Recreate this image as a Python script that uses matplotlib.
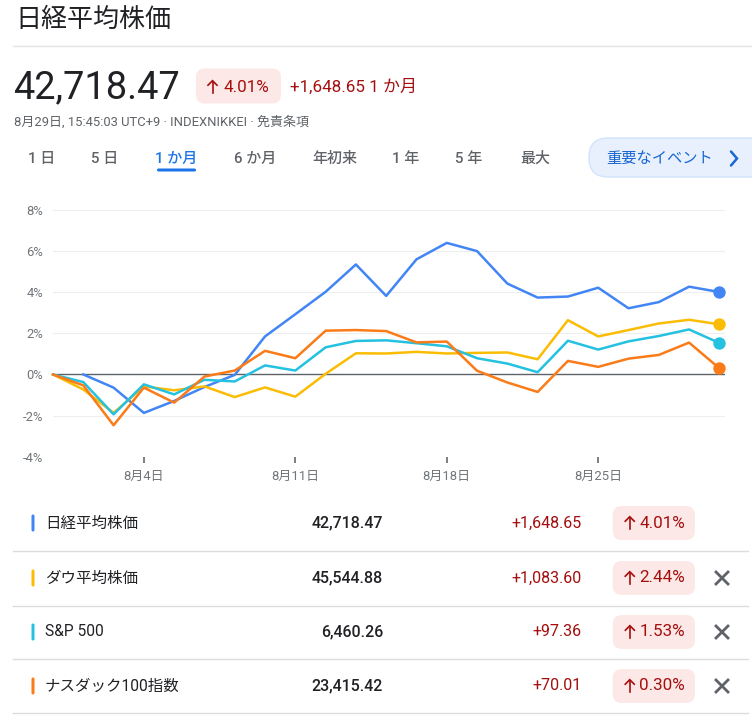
import numpy as np
import matplotlib
matplotlib.use('Agg')
import matplotlib.pyplot as plt
from matplotlib.patches import FancyBboxPatch

plt.rcParams['font.family'] = ['Roboto', 'Noto Sans CJK JP', 'DejaVu Sans']

W, H = 752, 720

# --- chart data (% change over 1 month, one value per trading day) ---
days = list(range(23))
tick_idx = [3, 8, 13, 18]
tick_labels = ['8月4日', '8月11日', '8月18日', '8月25日']
y_ticks = [-4, -2, 0, 2, 4, 6, 8]

nikkei = [np.nan, 0.00, -0.64, -1.87, -1.29, -0.61, -0.02, 1.85, 2.93, 4.02, 5.35,
          3.82, 5.60, 6.40, 6.00, 4.42, 3.74, 3.79, 4.22, 3.22, 3.52, 4.27, 4.01]
dow = [0.00, -0.73, -1.87, -0.58, -0.77, -0.58, -1.10, -0.63, -1.08, 0.03, 1.03,
       1.02, 1.10, 1.02, 1.05, 1.07, 0.74, 2.64, 1.85, 2.16, 2.48, 2.66, 2.44]
sp500 = [0.00, -0.37, -1.94, -0.48, -0.97, -0.26, -0.34, 0.44, 0.19, 1.32, 1.63,
         1.66, 1.52, 1.37, 0.79, 0.53, 0.11, 1.64, 1.21, 1.61, 1.87, 2.19, 1.53]
nasdaq = [0.00, -0.53, -2.47, -0.64, -1.37, -0.10, 0.19, 1.15, 0.79, 2.13, 2.16,
          2.11, 1.56, 1.60, 0.18, -0.39, -0.85, 0.66, 0.37, 0.77, 0.95, 1.55, 0.30]

# --- table data ---
names = ['日経平均株価', 'ダウ平均株価', 'S&P 500', 'ナスダック100指数']
prices = ['42,718.47', '45,544.88', '6,460.26', '23,415.42']
changes = ['+1,648.65', '+1,083.60', '+97.36', '+70.01']
pcts = ['4.01%', '2.44%', '1.53%', '0.30%']
removable = [False, True, True, True]
colors = ['#4285f4', '#fbbc04', '#24c1e0', '#fa7b17']

tabs = ['1 日', '5 日', '1 か月', '6 か月', '年初来', '1 年', '5 年', '最大']
active_tab = 2

DARK = '#202124'
GRAY = '#5f6368'
RED = '#a50e0e'
PINK = '#fce8e6'
BLUE = '#1a73e8'

fig = plt.figure(figsize=(W / 100, H / 100), dpi=100)
fig.patch.set_facecolor('white')

# overlay axes in pixel coordinates (y down)
ov = fig.add_axes([0, 0, 1, 1])
ov.set_xlim(0, W)
ov.set_ylim(H, 0)
ov.axis('off')


def pt(px):
    return px * 0.72


def rbox(x0, y0, x1, y1, r, fc, ec='none', lw=0):
    ov.add_patch(FancyBboxPatch((x0, y0), x1 - x0, y1 - y0,
                                boxstyle=f'round,pad=0,rounding_size={r}',
                                fc=fc, ec=ec, lw=lw, zorder=1))


def up_arrow(x, cy, color):
    top, bot = cy - 6.3, cy + 6.3
    ov.plot([x, x], [top + 0.8, bot], color=color, lw=1.2, zorder=3)
    ov.plot([x - 4.5, x, x + 4.5], [top + 4.5, top, top + 4.5], color=color, lw=1.2,
            zorder=3, solid_joinstyle='miter')


# header
ov.text(15, 20, '日経平均株価', fontsize=pt(26), color=DARK, va='center', ha='left')
ov.plot([13, W], [46, 46], color='#e3e3e3', lw=1)
ov.text(13, 88, prices[0], fontsize=pt(38), color=DARK, va='center', ha='left')
rbox(196, 68.5, 281, 103.5, 9, PINK)
up_arrow(212.5, 87, RED)
ov.text(223, 87, pcts[0], fontsize=pt(17), color=RED, va='center', ha='left')
ov.text(290, 87, changes[0] + ' 1 か月', fontsize=pt(17), color=RED, va='center', ha='left')
ov.text(14, 122, '8月29日, 15:45:03 UTC+9 · INDEXNIKKEI · 免責条項',
        fontsize=pt(13), color=GRAY, va='center', ha='left')

# range tabs
tab_x = [42, 105, 176, 255, 335, 406, 469, 535]
for i, (lab, tx) in enumerate(zip(tabs, tab_x)):
    c = BLUE if i == active_tab else GRAY
    ov.text(tx, 159, lab, fontsize=pt(15), color=c, va='center', ha='center',
            fontweight='medium')
rbox(157, 168.5, 196, 171.5, 1.5, BLUE)

# event button
rbox(589, 138, 770, 177, 19, '#e8f0fe', ec='#d2e3fc', lw=1)
ov.text(606, 159, '重要なイベント', fontsize=pt(15.3), color='#1967d2', va='center', ha='left')
ov.plot([731, 737, 731], [151.5, 158.5, 165.5], color='#1967d2', lw=1.8,
        solid_capstyle='round', solid_joinstyle='miter')

# chart
x0, x1 = 53, 725
y_top, y_bot = 210, 456.7
ax = fig.add_axes([x0 / W, 1 - y_bot / H, (x1 - x0) / W, (y_bot - y_top) / H])
ax.set_facecolor('none')
ax.set_xlim(0, (x1 - x0) / 30.29)
ax.set_ylim(-4, 8)
for s in ax.spines.values():
    s.set_visible(False)
ax.set_yticks(y_ticks)
ax.set_yticklabels([f'{v}%' for v in y_ticks])
ax.yaxis.grid(True, color='#eeeeee', lw=0.8)
ax.tick_params(axis='y', length=0, pad=pt(10), labelsize=pt(13), labelcolor='#70757a')
ax.set_xticks(tick_idx)
ax.set_xticklabels(tick_labels)
ax.tick_params(axis='x', length=pt(6), width=1.3, color='#70757a', pad=pt(7),
               labelsize=pt(13), labelcolor='#70757a', direction='out')
ax.axhline(0, color=GRAY, lw=1, zorder=2)
for series, c in zip([nikkei, dow, sp500, nasdaq], colors):
    ax.plot(days, series, color=c, lw=pt(2.5), zorder=3, clip_on=False)
    ax.plot(days[-1], series[-1], 'o', color=c, ms=pt(11), zorder=4, clip_on=False)

# table
row_y = [523, 578, 632, 686]
sep_y = [551, 606, 659, 713]
fig.canvas.draw()
renderer = fig.canvas.get_renderer()
for i in range(len(names)):
    cy = row_y[i]
    rbox(31.5, cy - 8.5, 34.5, cy + 8.5, 1.5, colors[i])
    ov.text(45, cy, names[i], fontsize=pt(15.5), color=DARK, va='center', ha='left')
    ov.text(383, cy, prices[i], fontsize=pt(16), color=DARK, va='center', ha='right',
            fontweight='medium')
    ov.text(582, cy, changes[i], fontsize=pt(16), color=RED, va='center', ha='right')
    t = ov.text(685, cy, pcts[i], fontsize=pt(17), color=RED, va='center',
                ha='right', zorder=3)
    bw = t.get_window_extent(renderer).width
    ax_x = 685 - bw - 9.5
    up_arrow(ax_x, cy, RED)
    rbox(ax_x - 17, cy - 17, 695, cy + 17, 9, PINK)
    if removable[i]:
        ov.plot([716, 728], [cy - 6, cy + 6], color=GRAY, lw=2)
        ov.plot([716, 728], [cy + 6, cy - 6], color=GRAY, lw=2)
    ov.plot([13, 748], [sep_y[i], sep_y[i]], color='#dadce0', lw=1)

fig.savefig('out.png', dpi=100, facecolor='white')
